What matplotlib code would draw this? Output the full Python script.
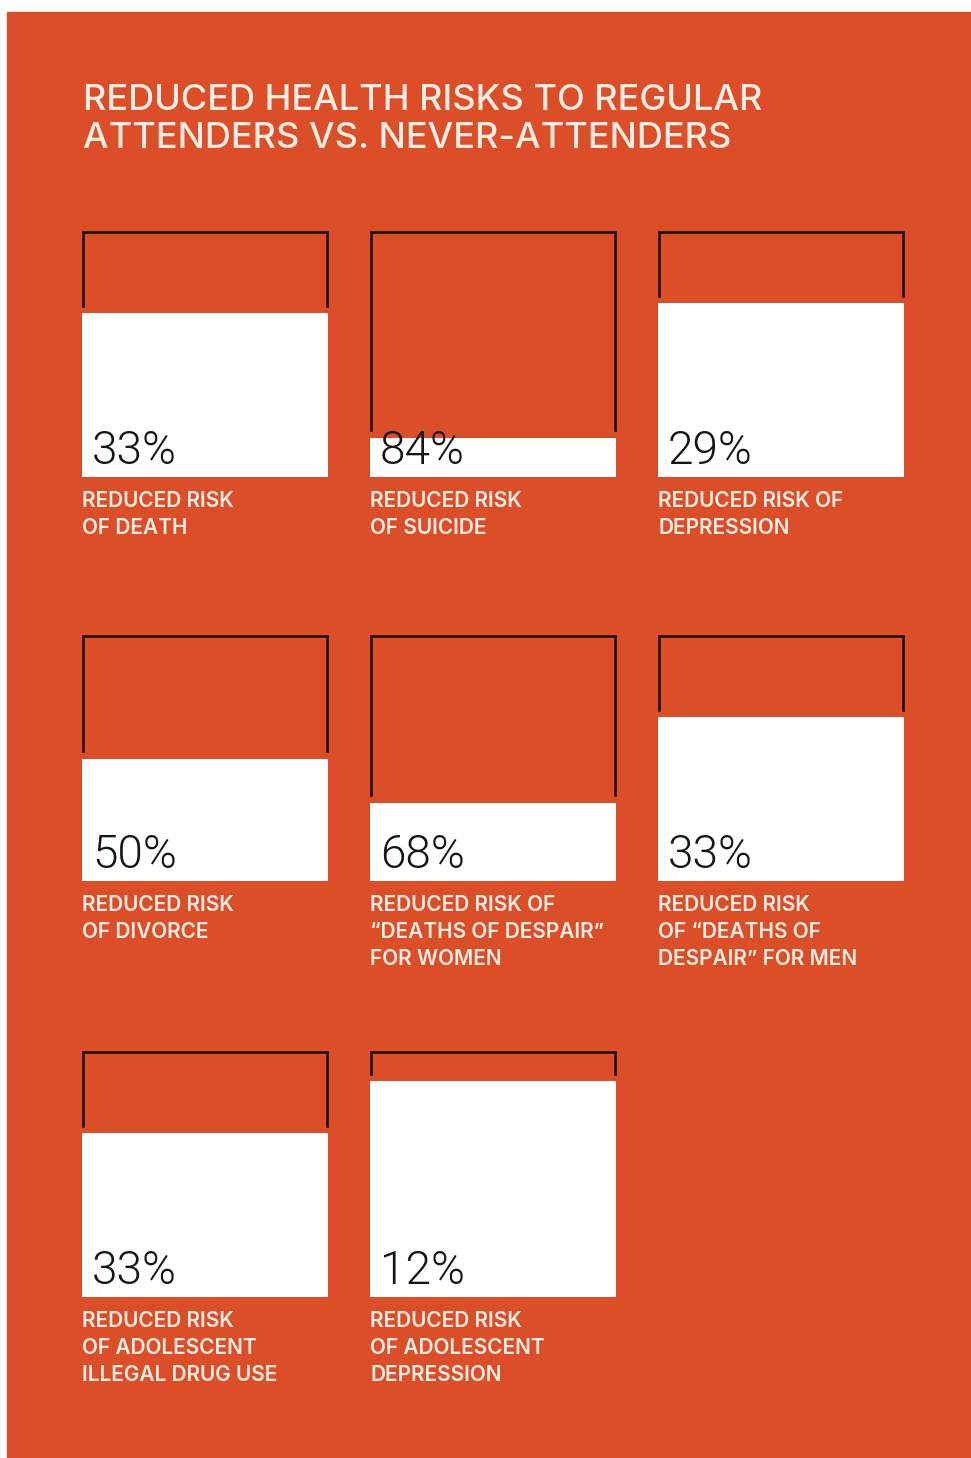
import matplotlib.pyplot as plt
from matplotlib.patches import Rectangle

# Values read from the infographic
values = [33, 84, 29, 50, 68, 33, 33, 12]
labels = [
    "REDUCED RISK\nOF DEATH",
    "REDUCED RISK\nOF SUICIDE",
    "REDUCED RISK OF\nDEPRESSION",
    "REDUCED RISK\nOF DIVORCE",
    "REDUCED RISK OF\n\u201cDEATHS OF DESPAIR\u201d\nFOR WOMEN",
    "REDUCED RISK\nOF \u201cDEATHS OF\nDESPAIR\u201d FOR MEN",
    "REDUCED RISK\nOF ADOLESCENT\nILLEGAL DRUG USE",
    "REDUCED RISK\nOF ADOLESCENT\nDEPRESSION",
]
title = "REDUCED HEALTH RISKS TO REGULAR\nATTENDERS VS. NEVER-ATTENDERS"

orange = "#DC4E28"
cream = "#FBEDE4"
W, H = 971, 1458

fig = plt.figure(figsize=(W / 100, H / 100), dpi=100, facecolor="white")

# background axes in pixel units
bg = fig.add_axes([0, 0, 1, 1])
bg.set_xlim(0, W)
bg.set_ylim(H, 0)
bg.axis("off")
bg.add_patch(Rectangle((7, 12), W - 7, H - 12, color=orange, zorder=0))

for k, line in enumerate(title.split("\n")):
    bg.text(83, 110 + 38 * k, line, fontsize=26, color=cream, family="Inter",
            weight="medium", va="baseline", ha="left")

col_left = [82, 370, 658]
row_top = [232, 636, 1052]
box_w, box_h = 246, 245

for i, (v, lab) in enumerate(zip(values, labels)):
    r, c = divmod(i, 3)
    x0, y0 = col_left[c], row_top[r]
    ax = fig.add_axes([x0 / W, 1 - (y0 + box_h) / H, box_w / W, box_h / H])
    ax.set_xlim(0, 1)
    ax.set_ylim(0, 100)
    ax.axis("off")
    ax.bar(0.5, 100 - v, width=1, bottom=0, color="white", zorder=1)
    tip = 100 - v + 3
    ax.plot([0.004, 0.004, 0.996, 0.996], [tip, 100, 100, tip], color="#1a1208",
            lw=1.9, solid_joinstyle="miter", clip_on=False, zorder=2)
    ax.text(0.04, 0.055, f"{v}%", transform=ax.transAxes, fontsize=33,
            family="Roboto", weight=300, color="#151515", va="baseline", ha="left")
    for k, line in enumerate(lab.split("\n")):
        bg.text(x0, y0 + box_h + 30 + 27 * k, line, fontsize=15, color=cream,
                family="Inter", weight="semibold", va="baseline", ha="left")

fig.savefig("out.png", dpi=100, facecolor="white")
